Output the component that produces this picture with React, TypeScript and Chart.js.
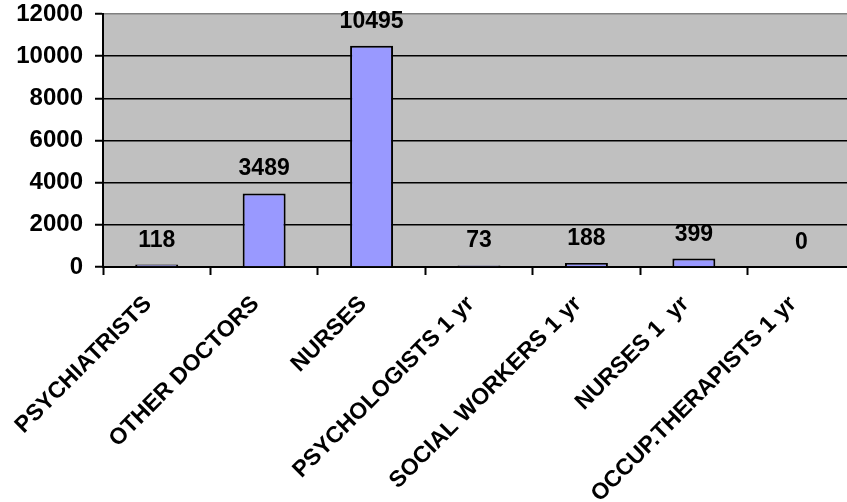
import React, { useEffect, useRef } from "react";
import { Chart, registerables } from "chart.js";

Chart.register(...registerables);

const categories = [
  "PSYCHIATRISTS",
  "OTHER DOCTORS",
  "NURSES",
  "PSYCHOLOGISTS 1 yr",
  "SOCIAL WORKERS 1 yr",
  "NURSES 1  yr",
  "OCCUP.THERAPISTS 1 yr",
];
const values = [118, 3489, 10495, 73, 188, 399, 0];
const yTicks = [0, 2000, 4000, 6000, 8000, 10000, 12000];

const FONT = "Arial, 'Liberation Sans', sans-serif";

const plotBg = {
  id: "plotBg",
  beforeDraw(chart: any) {
    const { ctx, chartArea } = chart;
    ctx.save();
    ctx.fillStyle = "#C0C0C0";
    ctx.fillRect(chartArea.left, chartArea.top, chartArea.right - chartArea.left, chartArea.bottom - chartArea.top);
    ctx.restore();
  },
};

const valueLabels = {
  id: "valueLabels",
  afterDatasetsDraw(chart: any) {
    const { ctx } = chart;
    const meta = chart.getDatasetMeta(0);
    ctx.save();
    ctx.font = `bold 23px ${FONT}`;
    ctx.fillStyle = "#000";
    ctx.textAlign = "center";
    ctx.textBaseline = "alphabetic";
    meta.data.forEach((bar: any, i: number) => {
      ctx.fillText(String(values[i]), bar.x, bar.y - 18);
    });
    ctx.restore();
  },
};

const xLabels = {
  id: "xLabels",
  afterDraw(chart: any) {
    const { ctx } = chart;
    const xs = chart.scales.x;
    const axisY = chart.chartArea.bottom;
    ctx.save();
    ctx.font = `bold 23px ${FONT}`;
    ctx.fillStyle = "#000";
    ctx.textAlign = "right";
    ctx.textBaseline = "alphabetic";
    categories.forEach((label, i) => {
      const cx = xs.getPixelForValue(i);
      ctx.save();
      ctx.translate(cx - 4, axisY + 38);
      ctx.rotate(-Math.PI / 4);
      ctx.fillText(label, 0, 0);
      ctx.restore();
    });
    ctx.restore();
  },
};

export default function App() {
  const ref = useRef<HTMLCanvasElement>(null);
  useEffect(() => {
    const chart = new Chart(ref.current!, {
      type: "bar",
      data: {
        labels: categories,
        datasets: [
          {
            data: values,
            backgroundColor: "#9999FF",
            borderColor: "#000000",
            borderWidth: 2,
            categoryPercentage: 1,
            barPercentage: 0.4,
          },
        ],
      },
      options: {
        responsive: false,
        animation: false,
        devicePixelRatio: 1,
        layout: { padding: { top: 14, left: 0, right: 0, bottom: 0 } },
        plugins: { legend: { display: false }, tooltip: { enabled: false } },
        scales: {
          x: {
            afterFit(scale: any) {
              scale.height = 235;
              scale.paddingLeft = 0;
              scale.paddingRight = 0;
            },
            grid: {
              drawOnChartArea: false,
              drawTicks: true,
              tickLength: 8,
              tickColor: "#000",
              tickWidth: 2,
              offset: true,
            },
            border: { color: "#000", width: 2 },
            ticks: { display: false, autoSkip: false },
          },
          y: {
            min: 0,
            max: 12000,
            afterFit(scale: any) {
              scale.width = 103;
              scale.paddingTop = 0;
              scale.paddingBottom = 0;
            },
            afterBuildTicks(scale: any) {
              scale.ticks = yTicks.map((v) => ({ value: v }));
            },
            grid: {
              color: (ctx: any) => (ctx.tick && ctx.tick.value === 12000 ? "#808080" : "#000"),
              lineWidth: 1.5,
              tickLength: 8,
              tickColor: "#000",
              tickWidth: 2,
            },
            border: { color: "#000", width: 2 },
            ticks: {
              padding: 12,
              color: "#000",
              font: { family: FONT, size: 24, weight: "bold" },
              callback: (v: any) => String(v),
            },
          },
        },
      },
      plugins: [plotBg, valueLabels, xLabels],
    });
    return () => chart.destroy();
  }, []);
  return (
    <div style={{ position: "fixed", left: 0, top: 0, width: 847, height: 502, overflow: "hidden", background: "#fff" }}>
      <canvas ref={ref} width={855} height={502} style={{ display: "block" }} />
    </div>
  );
}
